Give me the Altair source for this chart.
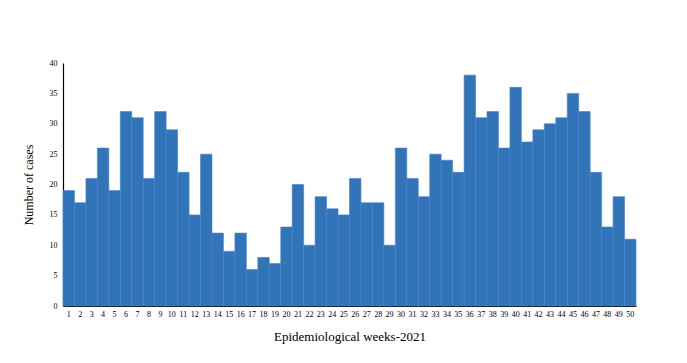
import altair as alt
import pandas as pd

weeks = list(range(1, 51))
cases = [19, 17, 21, 26, 19, 32, 31, 21, 32, 29,
         22, 15, 25, 12, 9, 12, 6, 8, 7, 13,
         20, 10, 18, 16, 15, 21, 17, 17, 10, 26,
         21, 18, 25, 24, 22, 38, 31, 32, 26, 36,
         27, 29, 30, 31, 35, 32, 22, 13, 18, 11]

df = pd.DataFrame({"week": weeks, "cases": cases})

chart = alt.Chart(df).mark_bar(
    color="#3274b8", stroke="#4a7fcc", strokeWidth=0.6
).encode(
    x=alt.X("week:O", title="Epidemiological weeks-2021",
            scale=alt.Scale(paddingInner=0, paddingOuter=0),
            axis=alt.Axis(labelAngle=0, ticks=False, domainColor="black",
                          domainWidth=1.2, labelPadding=4, titlePadding=12,
                          labelFontSize=8, titleFontSize=13,
                          labelFont="Liberation Serif", titleFont="Liberation Serif",
                          titleFontWeight="normal", labelColor="black", titleColor="black")),
    y=alt.Y("cases:Q", title="Number of cases",
            scale=alt.Scale(domain=[0, 40]),
            axis=alt.Axis(values=[0, 5, 10, 15, 20, 25, 30, 35, 40], grid=False,
                          ticks=False, domainColor="black", domainWidth=1.2,
                          labelPadding=6, titlePadding=14,
                          labelFontSize=8, titleFontSize=12,
                          labelFont="Liberation Serif", titleFont="Liberation Serif",
                          titleFontWeight="normal", labelColor="black", titleColor="black")),
).properties(
    width=573, height=243,
    autosize=alt.AutoSizeParams(type="none"),
    padding={"left": 55, "top": 55, "right": 40, "bottom": 50},
).configure_view(stroke=None)

chart.save("out.html", embed_options={"renderer": "svg", "actions": False})
